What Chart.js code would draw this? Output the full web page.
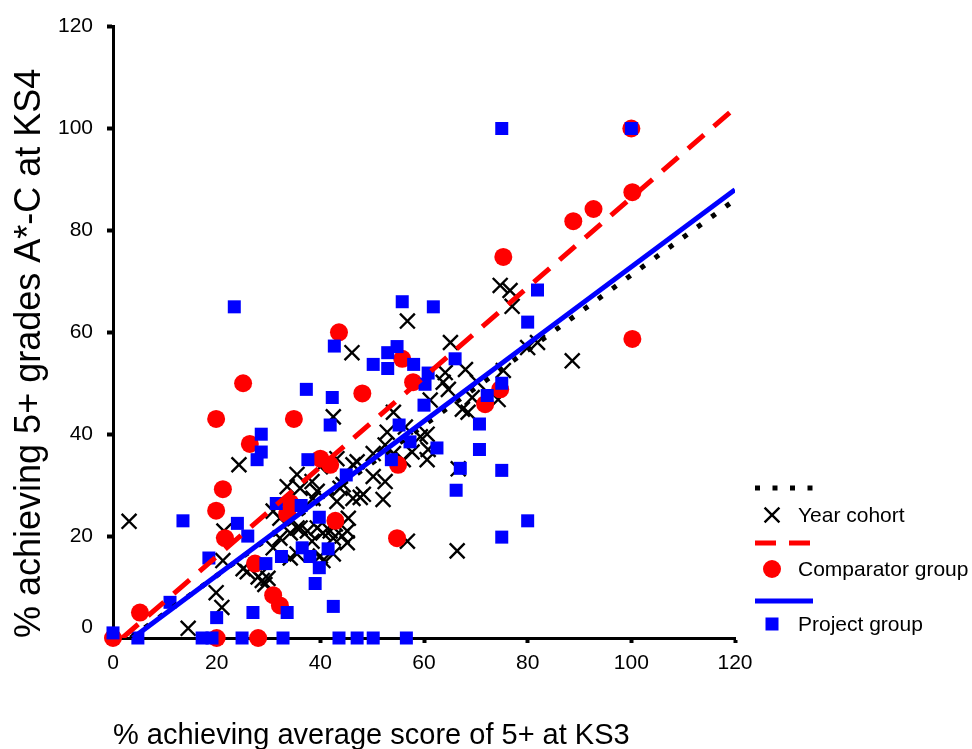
<!DOCTYPE html>
<html>
<head>
<meta charset="utf-8">
<script src="https://cdn.jsdelivr.net/npm/chart.js@4.4.1/dist/chart.umd.min.js"></script>
<style>
  html, body { margin: 0; padding: 0; background: #fff; }
  canvas { display: block; }
</style>
</head>
<body>
<canvas id="chart" width="972" height="749"></canvas>
<script>
// [KS3 %, KS4 %] for each school
const yearCohort = [
    [3.1, 22.9], [14.5, 1.9], [19.9, 8.9], [21, 6], [21.2, 15.2], [21.4, 21], [25.1, 13.6],
    [25.9, 13], [28, 12], [28.8, 11.3], [29.3, 10.5], [29.9, 11.7], [24.3, 34], [30.9, 24.9],
    [32.2, 23.5], [32.2, 19.6], [30.9, 17.7], [34.2, 20.6], [35.5, 21.6], [34.2, 15.7],
    [35.5, 16.5], [33.6, 29.7], [35.5, 32.1], [36.1, 29.4], [38.4, 30.7], [39.4, 28.8],
    [38.6, 27.4], [37.5, 21], [39.4, 21.6], [40.5, 20.6], [41.9, 21], [42.5, 19.6], [44.2, 20],
    [42.5, 16.5], [40.5, 15.2], [38.4, 19], [40, 16.1], [43.2, 35.2], [46.3, 34], [44.4, 30.1],
    [46.3, 27.4], [43.2, 26.8], [45.4, 23.5], [45.2, 21], [45.2, 18.7], [42.5, 43.4], [46.1, 56],
    [50.2, 36.2], [50.2, 31.7], [52.5, 30.7], [47.1, 34.6], [48.3, 28.2], [47.7, 27.6],
    [52.1, 27.2], [52.5, 37.9], [54.1, 36.2], [52.9, 40.4], [54.1, 44.3], [56.4, 41.4],
    [59.3, 39.5], [60.6, 40], [60.8, 37], [60.6, 35], [56, 35], [57.7, 36.5], [61.2, 46.7],
    [64.1, 52.1], [68, 52.7], [63.7, 50.2], [64.7, 48.8], [67.4, 44.9], [68.5, 44.3],
    [66.6, 33.2], [56.8, 62.2], [65.1, 58], [74.7, 69.2], [76.6, 68.2], [77, 65.1], [80, 57],
    [81.9, 58], [88.6, 54.4], [75.3, 52.5], [74.3, 46.8], [70.3, 50.2], [56.8, 19], [66.4, 17.1],
    [42.9, 22.4], [43.8, 29.4], [36.1, 21.6], [40, 33.6], [69.3, 47.2]
];

const comparatorGroup = [
    [0, 0], [20, 0], [28, 0], [5.2, 5], [21.2, 29.2], [19.9, 25], [21.6, 19.6], [27.4, 14.6],
    [30.9, 8.4], [32.2, 6.4], [34.2, 26.5], [33.6, 24.3], [43.6, 60], [25.1, 50], [19.9, 43],
    [34.9, 43], [26.4, 38.1], [40, 35.2], [41.9, 34], [42.9, 23], [75.3, 74.8], [48.1, 48],
    [55.8, 54.8], [57.9, 50.2], [74.7, 48.8], [71.8, 45.9], [55, 34], [54.8, 19.6], [100, 100],
    [100.2, 87.5], [92.7, 84.2], [88.8, 81.8], [100.2, 58.7]
];

const projectGroup = [
    [0, 1], [4.8, 0], [17.2, 0], [19.1, 0], [24.9, 0], [32.8, 0], [43.6, 0], [47.1, 0], [50.2, 0],
    [56.6, 0], [13.5, 23], [11, 7], [18.5, 15.7], [20, 4], [24, 22.5], [26, 20], [27, 5],
    [29.5, 14.6], [31.5, 26.4], [32.5, 16], [33.6, 5], [36.3, 26], [23.4, 65], [42.7, 57.3],
    [37.3, 48.8], [42.3, 47.2], [41.9, 41.8], [28.6, 40], [28.6, 36.5], [27.8, 35], [37.6, 35],
    [39.8, 23.7], [45, 32], [55.8, 66], [61.8, 65], [81.9, 68.3], [80, 62], [54.8, 57.2], [53, 56],
    [50.2, 53.7], [53, 52.9], [58, 53.7], [60.8, 52], [60.2, 49.8], [66, 54.8], [75, 50],
    [72.2, 47.6], [70.7, 42], [70.7, 37], [60, 45.7], [55.2, 41.8], [57.3, 38.5], [62.5, 37.3],
    [53.7, 35], [67, 33.3], [75, 32.9], [66.2, 29], [80, 23], [75, 19.8], [75, 100], [100, 100],
    [41.5, 17.5], [38, 16], [39.8, 13.8], [39, 10.7], [42.5, 6.2], [36.5, 17.7]
];

// linear trend lines, start and end points
const cohortTrend = [[3.4, 0], [120, 86]];
const comparatorTrend = [[1.8, 0], [120, 104]];
const projectTrend = [[3.8, 0], [120, 88]];

const axisTicks = [0, 20, 40, 60, 80, 100, 120];

const FONT = '"Liberation Sans", Arial, sans-serif';

function toPoints(arr) {
    return arr.map(p => ({ x: p[0], y: p[1] }));
}

const hideZeroTick = ctx => (ctx.tick && ctx.tick.value === 0) ? 'rgba(0,0,0,0)' : '#000';

// side legend: a line sample row, then marker + label row
const legendPlugin = {
    id: 'sideLegend',
    afterDraw(chart) {
        const ctx = chart.ctx;
        const rows = [
            { line: 0, marker: 3, lineY: 488, itemY: 516 },
            { line: 1, marker: 4, lineY: 543, itemY: 570 },
            { line: 2, marker: 5, lineY: 601, itemY: 625 }
        ];
        ctx.save();
        rows.forEach(r => {
            const ln = chart.data.datasets[r.line];
            const mk = chart.data.datasets[r.marker];
            ctx.beginPath();
            ctx.setLineDash(ln.borderDash || []);
            ctx.lineWidth = ln.borderWidth;
            ctx.strokeStyle = ln.borderColor;
            ctx.lineCap = 'butt';
            ctx.moveTo(755, r.lineY);
            ctx.lineTo(813, r.lineY);
            ctx.stroke();
            ctx.setLineDash([]);

            ctx.fillStyle = mk.backgroundColor;
            ctx.strokeStyle = mk.borderColor;
            ctx.lineWidth = mk.borderWidth;
            Chart.helpers.drawPoint(ctx, {
                pointStyle: mk.pointStyle,
                radius: mk.pointRadius,
                borderWidth: mk.borderWidth,
                rotation: 0
            }, 772, r.itemY - 1);

            ctx.fillStyle = '#000';
            ctx.font = '21px ' + FONT;
            ctx.textAlign = 'left';
            ctx.textBaseline = 'middle';
            ctx.fillText(mk.label, 798, r.itemY);
        });
        // the zero on the value axis sits a little above the axis line
        ctx.font = '21px ' + FONT;
        ctx.textAlign = 'right';
        ctx.textBaseline = 'middle';
        ctx.fillStyle = '#000';
        ctx.fillText('0', 93, 627);
        ctx.restore();
    }
};

const chart = new Chart(document.getElementById('chart'), {
    type: 'scatter',
    data: {
        datasets: [
            {
                label: 'Year cohort trend',
                data: toPoints(cohortTrend),
                showLine: true,
                pointRadius: 0,
                borderColor: '#000',
                borderWidth: 5,
                borderDash: [5, 12.5],
                order: 2
            },
            {
                label: 'Comparator trend',
                data: toPoints(comparatorTrend),
                showLine: true,
                pointRadius: 0,
                borderColor: '#ff0000',
                borderWidth: 5,
                borderDash: [21, 13],
                order: 0
            },
            {
                label: 'Project trend',
                data: toPoints(projectTrend),
                showLine: true,
                pointRadius: 0,
                borderColor: '#0000ff',
                borderWidth: 5,
                order: 1
            },
            {
                label: 'Year cohort',
                data: toPoints(yearCohort),
                pointStyle: 'crossRot',
                pointRadius: 10.5,
                borderColor: '#000',
                backgroundColor: '#000',
                borderWidth: 2.4,
                clip: false,
                order: 6
            },
            {
                label: 'Comparator group',
                data: toPoints(comparatorGroup),
                pointStyle: 'circle',
                pointRadius: 9,
                borderColor: '#ff0000',
                backgroundColor: '#ff0000',
                borderWidth: 0,
                clip: false,
                order: 5
            },
            {
                label: 'Project group',
                data: toPoints(projectGroup),
                pointStyle: 'rect',
                pointRadius: 9.2,
                borderColor: '#0000ff',
                backgroundColor: '#0000ff',
                borderWidth: 0,
                clip: false,
                order: 4
            }
        ]
    },
    options: {
        responsive: false,
        animation: false,
        devicePixelRatio: 1,
        layout: { padding: { top: 20, right: 237, bottom: 0, left: 0 } },
        plugins: {
            legend: { display: false },
            tooltip: { enabled: false }
        },
        elements: { point: { hoverRadius: 0 } },
        scales: {
            x: {
                type: 'linear',
                min: axisTicks[0],
                max: axisTicks[axisTicks.length - 1],
                afterFit: scale => { scale.height = 111; },
                border: { display: true, color: '#000', width: 3 },
                grid: {
                    drawOnChartArea: false,
                    drawTicks: true,
                    tickLength: 5,
                    tickWidth: 4,
                    tickColor: hideZeroTick
                },
                ticks: {
                    stepSize: 20,
                    maxRotation: 0,
                    padding: 8,
                    color: '#000',
                    font: { family: FONT, size: 21 }
                },
                title: {
                    display: true,
                    text: '% achieving average score of 5+ at KS3',
                    align: 'start',
                    color: '#000',
                    font: { family: FONT, size: 29, lineHeight: 0.9 },
                    padding: { top: 0, bottom: 0 }
                }
            },
            y: {
                type: 'linear',
                min: axisTicks[0],
                max: axisTicks[axisTicks.length - 1],
                afterFit: scale => { scale.width = 113; },
                border: { display: true, color: '#000', width: 3 },
                grid: {
                    drawOnChartArea: false,
                    drawTicks: true,
                    tickLength: 6,
                    tickWidth: 4,
                    tickColor: hideZeroTick
                },
                ticks: {
                    stepSize: 20,
                    padding: 14,
                    color: '#000',
                    font: { family: FONT, size: 21 },
                    callback: v => v === 0 ? '' : v
                },
                title: {
                    display: true,
                    text: '% achieving 5+ grades A*-C at KS4',
                    align: 'start',
                    color: '#000',
                    font: { family: FONT, size: 36, lineHeight: 1.2 },
                    padding: { top: 8, bottom: 0 }
                }
            }
        }
    },
    plugins: [legendPlugin]
});
</script>
</body>
</html>
